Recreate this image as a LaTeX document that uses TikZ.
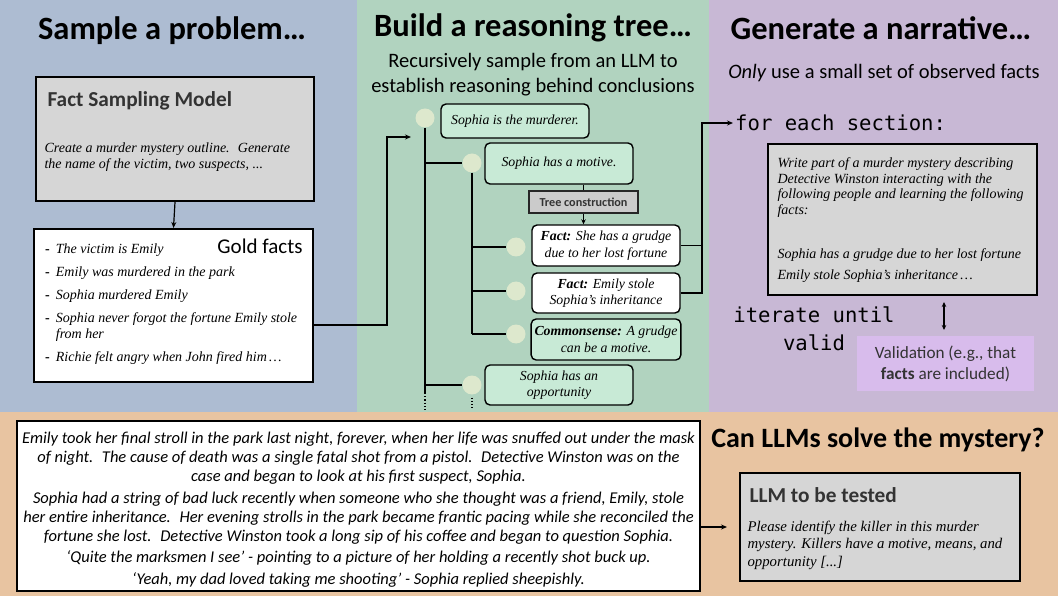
\documentclass[tikz,border=0pt]{standalone}
\usepackage{fontspec}
\setmainfont{Liberation Serif}
\setsansfont{Carlito}
\setmonofont{DejaVu Sans Mono}
\usetikzlibrary{arrows.meta}

\definecolor{probblue}{RGB}{173,188,210}
\definecolor{treegreen}{RGB}{177,211,191}
\definecolor{narrpurple}{RGB}{200,184,213}
\definecolor{solveorange}{RGB}{232,196,161}
\definecolor{nodegreen}{RGB}{200,234,214}
\definecolor{knotgreen}{RGB}{221,232,205}
\definecolor{promptgray}{RGB}{214,214,214}
\definecolor{validpurple}{RGB}{216,188,236}
\definecolor{darktext}{RGB}{51,51,51}

\begin{document}
\begin{tikzpicture}[x=1pt, y=-1pt,
    paneltitle/.style={font=\sffamily\bfseries\fontsize{32.5}{36}\selectfont},
    subtitle/.style={font=\sffamily\fontsize{20.5}{25}\selectfont, align=center},
    prompt/.style={draw=black, line width=2pt, fill=promptgray},
    boxname/.style={anchor=west, text=darktext, font=\sffamily\bfseries\fontsize{21.3}{24}\selectfont},
    serifit/.style={align=left, font=\itshape\fontsize{14}{16}\selectfont},
    treebox/.style={draw=black, line width=1.4pt, rounded corners=5pt, fill=nodegreen,
        minimum width=148pt, align=center, font=\itshape\fontsize{13.8}{16.5}\selectfont},
    factbox/.style={treebox, fill=white},
    knot/.style={circle, fill=knotgreen, minimum size=19pt, inner sep=0pt},
    branch/.style={line width=1.2pt},
    link/.style={line width=1.2pt, -{Stealth[length=6pt,width=5pt]}},
    mono/.style={font=\ttfamily\fontsize{20.6}{28}\selectfont}
]
\useasboundingbox (0,0) rectangle (1058,596);

% panels
\fill[probblue] (0,0) rectangle (357,412);
\fill[treegreen] (357,0) rectangle (709,412);
\fill[narrpurple] (709,0) rectangle (1058,412);
\fill[solveorange] (0,412) rectangle (1058,596);

% sample a problem
\node[paneltitle] (probtitle) at (172,31) {Sample a problem…};
\node[prompt, minimum width=278pt, minimum height=124pt] (fsm) at (175,139) {};
\node[boxname] (fsmname) at (44,101) {Fact Sampling Model};
\node[serifit, anchor=west] (fsmtext) at (41,157) {Create a murder mystery outline.~ Generate\\the name of the victim, two suspects, ...};
\node[draw=black, line width=2pt, fill=white, minimum width=279pt, minimum height=153pt] (gold) at (173.5,305.5) {};
\node[font=\sffamily\fontsize{21}{24}\selectfont] (goldname) at (260,246) {Gold facts};
\node[anchor=north west, font=\fontsize{14}{16}\selectfont, inner sep=0pt] (goldlist) at (45,242) {%
\begin{tabular}{@{}l@{\hspace{6pt}}l@{}}
\textbf{-} & \textit{The victim is Emily}\\[7pt]
\textbf{-} & \textit{Emily was murdered in the park}\\[7pt]
\textbf{-} & \textit{Sophia murdered Emily}\\[7pt]
\textbf{-} & \textit{Sophia never forgot the fortune Emily stole}\\
 & \textit{from her}\\[7pt]
\textbf{-} & \textit{Richie felt angry when John fired him\,…}
\end{tabular}};
\draw[link] (fsm.south) -- (gold.north);

% reasoning tree
\node[paneltitle] (treetitle) at (533,28) {Build a reasoning tree…};
\node[subtitle] (treesub) at (533,75) {Recursively sample from an LLM to\\establish reasoning behind conclusions};
\coordinate (treein) at (411,137);
\draw[link] ([yshift=-19.5pt]gold.east) -- ++(73,0) |- (treein);

\node[knot] (k0) at (425,118) {};
\node[knot] (k1) at (472,163) {};
\node[knot] (k11) at (516,247) {};
\node[knot] (k12) at (516,291) {};
\node[knot] (k13) at (516,334) {};
\node[knot] (k2) at (472,385) {};
\coordinate (trunkend) at (425,393);

\draw[branch] (k0.south) -- (trunkend);
\draw[branch, dotted] (trunkend) -- ++(0,17);
\draw[branch] (k0 |- k1) -- (k1.west);
\draw[branch] (k0 |- k2) -- (k2.west);
\draw[branch] (k1.south) -- (k1 |- k13);
\draw[branch] (k1 |- k11) -- (k11.west);
\draw[branch] (k1 |- k12) -- (k12.west);
\draw[branch] (k1 |- k13) -- (k13.west);
\draw[branch, dotted] ([yshift=-3pt]k2.south) -- ++(0,10);

\node[treebox, minimum height=34pt] (n0) at (515,121) {Sophia is the murderer.};
\node[treebox, minimum height=41pt] (n1) at (559,163.5) {Sophia has a motive.};
\node[draw=black!85, line width=1.8pt, fill=promptgray!95!black, minimum width=109pt, minimum height=22pt,
    inner sep=1pt, text=darktext, font=\sffamily\bfseries\fontsize{12.2}{14}\selectfont] (tc) at (583.5,202) {Tree construction};
\node[factbox, minimum height=41pt] (f1) at (606,245.5) {\textbf{Fact:} She has a grudge\\due to her lost fortune};
\node[factbox, minimum height=40pt] (f2) at (606,293) {\textbf{Fact:} Emily stole\\Sophia’s inheritance};
\node[treebox, minimum height=41pt] (f3) at (606,339.5) {\textbf{Commonsense:} A grudge\\can be a motive.};
\node[treebox, minimum height=40pt] (n2) at (559,385) {Sophia has an\\opportunity};
\draw[branch] (n1.south -| tc) -- (tc.north);
\draw[line width=1pt, -{Stealth[length=5pt,width=4.5pt]}] (tc.south) -- (tc.south |- f1.north);

% narrative
\node[paneltitle] (narrtitle) at (881,28) {Generate a narrative…};
\node[font=\sffamily\fontsize{20.5}{24}\selectfont] (narrsub) at (884,73) {\textit{Only} use a small set of observed facts};
\node[mono, anchor=west, inner sep=2pt] (foreach) at (733,123) {for each section:};
\coordinate (fork) at (702,293);
\draw[branch] (f1.east) -- (f1.east -| fork);
\draw[link] (f2.east) -- (fork) |- (foreach.west);

\node[prompt, minimum width=269pt, minimum height=151pt] (wprompt) at (902.5,219.5) {};
\node[serifit, anchor=north west, font=\itshape\fontsize{14}{15.7}\selectfont] (wtext) at (774,154) {Write part of a murder mystery describing\\Detective Winston interacting with the\\following people and learning the following\\facts:};
\node[serifit, anchor=north west, font=\itshape\fontsize{14}{21}\selectfont] (wfacts) at (774,245) {Sophia has a grudge due to her lost fortune\\Emily stole Sophia’s inheritance\,…};

\node[mono, align=center] (iterate) at (814,329) {iterate until\\valid};
\coordinate (iterA) at (944,302);
\coordinate (iterB) at (944,330);
\draw[line width=1.2pt, {Stealth[length=5pt,width=4.5pt]}-{Stealth[length=5pt,width=4.5pt]}] (iterA) -- (iterB);
\node[fill=validpurple, minimum width=177pt, minimum height=55pt, align=center, text=darktext,
    font=\sffamily\fontsize{17.2}{21}\selectfont] (valid) at (945.5,363.5) {Validation (e.g., that\\\textbf{facts} are included)};

% solve
\node[draw=black, line width=1.6pt, fill=white, minimum width=683pt, minimum height=170pt] (story) at (358.5,506) {};
\node[align=center, font=\sffamily\itshape\fontsize{16.5}{19}\selectfont] (storytext) at (358.5,509.5) {%
Emily took her final stroll in the park last night, forever, when her life was snuffed out under the mask\\
of night.~ The cause of death was a single fatal shot from a pistol.~ Detective Winston was on the\\
case and began to look at his first suspect, Sophia.\\[2.5pt]
Sophia had a string of bad luck recently when someone who she thought was a friend, Emily, stole\\
her entire inheritance.~ Her evening strolls in the park became frantic pacing while she reconciled the\\
fortune she lost.~ Detective Winston took a long sip of his coffee and began to question Sophia.\\[2.5pt]
‘Quite the marksmen I see’ - pointing to a picture of her holding a recently shot buck up.\\[2.5pt]
‘Yeah, my dad loved taking me shooting’ - Sophia replied sheepishly.};

\node[paneltitle, font=\sffamily\bfseries\fontsize{28}{32}\selectfont] (solvetitle) at (878,440) {Can LLMs solve the mystery?};
\node[prompt, minimum width=280pt, minimum height=108pt] (llm) at (880,527) {};
\node[boxname] (llmname) at (746,495) {LLM to be tested};
\node[serifit, anchor=west, font=\itshape\fontsize{14.8}{17.5}\selectfont] (llmtext) at (744,545) {Please identify the killer in this murder\\mystery. Killers have a motive, means, and\\opportunity [...]};
\draw[link] (story.east |- llm.west) -- ([xshift=-12pt]llm.west);
\end{tikzpicture}
\end{document}
